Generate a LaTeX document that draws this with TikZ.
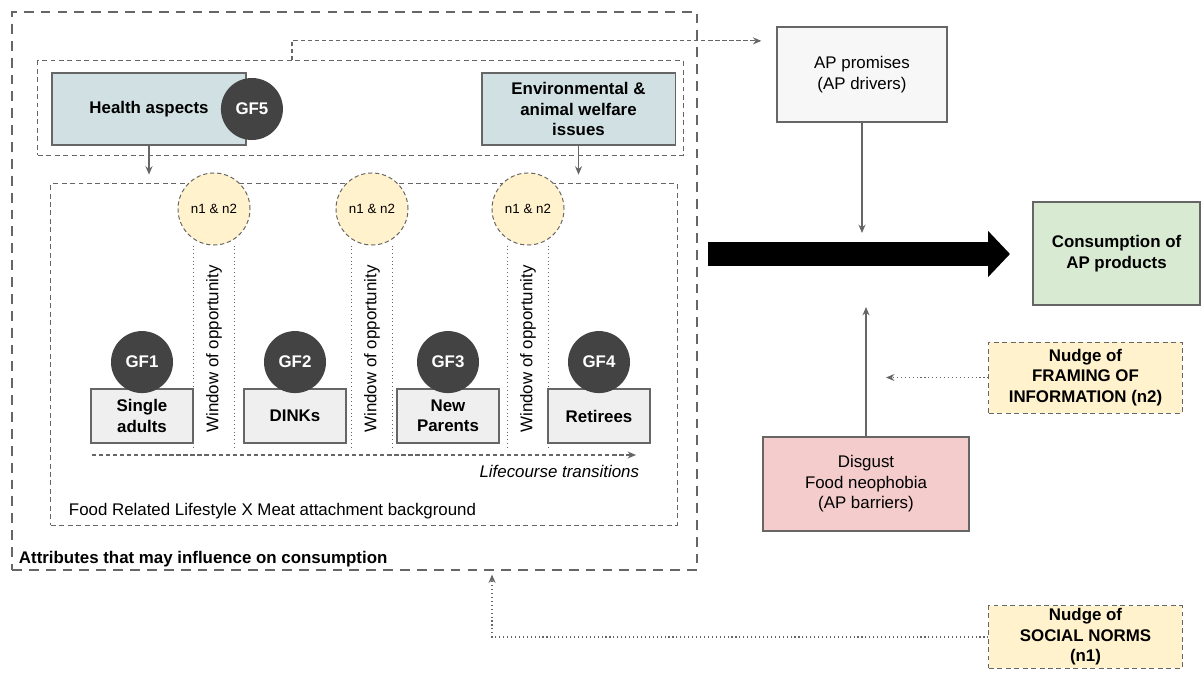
\documentclass[tikz,border=0pt]{standalone}
\usepackage{fontspec}
\setmainfont{Liberation Sans}
\usetikzlibrary{arrows.meta, positioning}
\definecolor{myline}{RGB}{102, 102, 102}
\definecolor{myblue}{RGB}{208, 224, 227}
\definecolor{mygrey}{RGB}{239, 239, 239}
\definecolor{mydark}{RGB}{67, 67, 67}
\definecolor{myyellow}{RGB}{255, 242, 204}
\definecolor{mygreen}{RGB}{217, 234, 211}
\definecolor{mypink}{RGB}{244, 204, 204}
\definecolor{mywhite}{RGB}{247, 247, 247}

\begin{document}
\begin{tikzpicture}[x=0.025cm, y=-0.025cm, font=\fontsize{12}{14.5}\selectfont,
    box/.style={draw=myline, line width=0.9pt, align=center, inner sep=2pt},
    gfcirc/.style={circle, fill=mydark, text=white, minimum size=1.55cm, inner sep=0pt, font=\fontsize{12}{14}\selectfont\bfseries},
    nudgecirc/.style={circle, draw=myline, dash pattern=on 3pt off 2pt, line width=0.7pt, fill=myyellow, minimum size=1.8cm, inner sep=0pt, font=\fontsize{9.5}{11}\selectfont},
    groupbox/.style={box, fill=mygrey, minimum width=2.55cm, minimum height=1.35cm, font=\fontsize{12}{14.5}\selectfont\bfseries},
    dashframe/.style={draw=myline, dash pattern=on 3.5pt off 2.5pt, line width=0.7pt, minimum width=#1},
    flow/.style={draw=myline, line width=0.8pt, -{Stealth[length=6pt, width=5pt]}},
    dashflow/.style={flow, dash pattern=on 3pt off 2pt},
    dotflow/.style={flow, dotted}]

    \useasboundingbox (0,0) rectangle (1201,675);

    % Attributes frame
    \node[draw=myline, line width=1.8pt, dash pattern=on 7pt off 5pt, minimum width=17.125cm, minimum height=13.95cm] (attr) at (354.5,291) {};
    \node[anchor=west, font=\fontsize{12}{14.5}\selectfont\bfseries] (attrlabel) at (14,559) {Attributes that may influence on consumption};

    % Health and environment
    \node[dashframe=16.125cm, minimum height=2.35cm] (risks) at (360.5,108) {};
    \node[box, fill=myblue, minimum width=4.85cm, minimum height=1.8cm, font=\fontsize{12}{14.5}\selectfont\bfseries] (health) at (149,109) {Health aspects};
    \node[gfcirc, right=-0.65cm of health] (gf5) {GF5};
    \node[box, fill=myblue, minimum width=4.83cm, minimum height=1.8cm, font=\fontsize{12}{14.5}\selectfont\bfseries] (env) at (578.5,109) {Environmental \&\\animal welfare\\issues};

    % Lifecourse background
    \node[dashframe=15.65cm, minimum height=8.525cm] (life) at (364,354.5) {};
    \draw[flow] (health.south) -- (health.south |- life.north) [shorten >=0.22cm];
    \draw[flow] (env.south) -- (env.south |- life.north) [shorten >=0.22cm];

    \foreach \i/\x in {1/214, 2/372, 3/528}
    {
        \node[nudgecirc] (n\i) at (\x,209) {n1 \& n2};
        \node[rotate=90] (w\i) at (\x,349) {Window of opportunity};
        \draw[myline, dotted, line width=0.7pt] ([xshift=-0.52cm]n\i.south) -- ++(0,202);
        \draw[myline, dotted, line width=0.7pt] ([xshift=0.5cm]n\i.south) -- ++(0,202);
    }

    \foreach \i/\x/\txt in {1/142/{Single\\adults}, 2/295/DINKs, 3/448/{New\\Parents}, 4/599/Retirees}
    {
        \node[groupbox] (g\i) at (\x,416) {\txt};
        \node[gfcirc, above=-0.125cm of g\i] (gf\i) {GF\i};
    }

    \coordinate (lcstart) at (92,455);
    \coordinate (lcend) at (636,455);
    \draw[dashflow] (lcstart) -- (lcend);
    \node[anchor=east, font=\fontsize{12}{14.5}\selectfont\itshape] (lclabel) at (644,471) {Lifecourse transitions};
    \node[anchor=west] (frl) at (64,511) {Food Related Lifestyle X Meat attachment background};

    % Drivers, barriers and consumption
    \node[box, fill=mywhite, minimum width=4.25cm, minimum height=2.375cm] (promises) at (862,74.5) {AP promises\\(AP drivers)};
    \node[box, fill=mypink, minimum width=5.15cm, minimum height=2.35cm] (disgust) at (866,484) {Disgust\\Food neophobia\\(AP barriers)};
    \node[box, fill=mygreen, minimum width=4.175cm, minimum height=2.575cm, font=\fontsize{12}{14.5}\selectfont\bfseries] (consume) at (1116.5,253.5) {Consumption of\\AP products};

    \coordinate (flowstart) at (708,254);
    \coordinate (flowend) at (1010,254);
    \draw[line width=0.6cm, -{Triangle[length=0.55cm, width=1.125cm]}] (flowstart) -- (flowend);

    \coordinate (meettop) at (862,233);
    \coordinate (meetbot) at (866,307);
    \draw[flow] (promises.south) -- (meettop);
    \draw[flow] (disgust.north) -- (meetbot);

    \draw[dashflow] ([xshift=-1.7125cm]risks.north) |- ([xshift=-0.375cm, yshift=0.84cm]promises.west);

    % Nudges
    \node[box, dashframe=4.825cm, fill=myyellow, minimum height=1.775cm, font=\fontsize{12}{14.5}\selectfont\bfseries] (framing) at (1085.5,377.5) {Nudge of\\FRAMING OF\\INFORMATION (n2)};
    \node[box, dashframe=4.825cm, fill=myyellow, minimum height=1.55cm, font=\fontsize{12}{14.5}\selectfont\bfseries] (social) at (1085.5,637) {Nudge of\\SOCIAL NORMS\\(n1)};

    \coordinate (framingtip) at (886,377.5);
    \draw[dotflow] (framing.west) -- (framingtip);
    \draw[dotflow] (social.west) -| ([xshift=3.4375cm]attr.south) [shorten >=0.08cm];

\end{tikzpicture}
\end{document}
